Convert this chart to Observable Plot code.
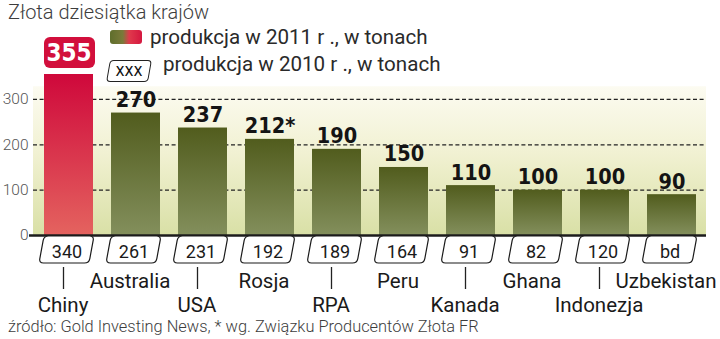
<!DOCTYPE html>
<html>
<head>
<meta charset="utf-8">
<script src="https://cdn.jsdelivr.net/npm/d3@7"></script>
<script src="https://cdn.jsdelivr.net/npm/@observablehq/plot@0.6"></script>
<style>
  html, body { margin: 0; padding: 0; background: #fff; }
  #wrap { position: relative; width: 720px; height: 339px; overflow: hidden; font-family: Roboto, "Noto Sans", sans-serif; }
  .abs { position: absolute; white-space: nowrap; }
  #title { left: 8px; top: 2px; font-size: 20px; line-height: 20px; font-weight: 300; color: #3d3d3d; }
  .leg { font-size: 20.6px; line-height: 20px; color: #2a2a2a; font-weight: 400; }
  #sw { left: 110px; top: 30px; width: 32px; height: 14px; border-radius: 3px;
        background: linear-gradient(to right, #5f6e2c 0%, #7a7a3a 40%, #e0394c 60%, #d4173f 100%); }
  #xbox { left: 108px; top: 60px; width: 40px; height: 20px; border: 1.3px solid #222; border-radius: 4px;
          transform: skewX(-10deg); background: #fff; }
  #xbox span { display: block; transform: skewX(10deg); text-align: center; font-family: "DejaVu Sans Condensed", Roboto, sans-serif; font-size: 17px; line-height: 19px; color: #111; }
  #footer { left: 8px; top: 319.5px; font-size: 16.4px; line-height: 13px; font-weight: 300; color: #3d3d3d; }
  svg { position: absolute; left: 0; top: 0; }
</style>
</head>
<body>
<div id="wrap">
  <div id="chart"></div>
  <div class="abs" id="title">Złota dziesiątka krajów</div>
  <div class="abs" id="sw"></div>
  <div class="abs leg" style="left:150px; top:27px;">produkcja w 2011 r ., w tonach</div>
  <div class="abs" id="xbox"><span>xxx</span></div>
  <div class="abs leg" style="left:163px; top:54px;">produkcja w 2010 r ., w tonach</div>
  <div class="abs" id="footer">źródło: Gold Investing News, * wg. Związku Producentów Złota FR</div>
</div>
<script>
// ---- data ----
const countries = ["Chiny", "Australia", "USA", "Rosja", "RPA", "Peru", "Kanada", "Ghana", "Indonezja", "Uzbekistan"];
const prod2011 = [355, 270, 237, 212, 190, 150, 110, 100, 100, 90];
const labels2011 = ["355", "270", "237", "212*", "190", "150", "110", "100", "100", "90"];
const labels2010 = ["340", "261", "231", "192", "189", "164", "91", "82", "120", "bd"];
const yTicks = [0, 100, 200, 300];
const gridTicks = [100, 200, 300];
const highlight = "Chiny";

const data = countries.map((c, i) => ({
  country: c, v: prod2011[i], label: labels2011[i], prev: labels2010[i], row: i % 2
}));
const top1 = data.filter(d => d.country === highlight);
const rest = data.filter(d => d.country !== highlight);

const boldFont = "'DejaVu Sans Condensed', Roboto, sans-serif";

const plot = Plot.plot({
  width: 720,
  height: 339,
  marginTop: 74,
  marginBottom: 104,
  marginLeft: 33,
  marginRight: 14,
  style: { fontFamily: "Roboto, sans-serif", background: "transparent", overflow: "visible" },
  x: { domain: countries, paddingInner: 0.272, paddingOuter: 0.134, axis: null },
  y: { domain: [0, 355], axis: null },
  color: { type: "identity" },
  marks: [
    Plot.rect([328], { y1: 0, y2: d => d, fill: () => "url(#bgGrad)" }),
    Plot.ruleY(gridTicks, { stroke: "#222", strokeWidth: 1.2, strokeDasharray: "4,2.6" }),
    Plot.barY(data, { x: "country", y: "v", fill: d => d.country === highlight ? "url(#gRed)" : "url(#gGreen)" }),
    Plot.ruleY([0], { stroke: "#1c1c1c", strokeWidth: 2.6, insetLeft: -4 }),
    Plot.axisY({ ticks: yTicks, tickSize: 0, tickPadding: 5, fontSize: 15.5, fill: "#555", fontWeight: 300, label: null }),
    Plot.text(rest, { x: "country", y: "v", text: "label", dy: -13, fontSize: 21.5, fontWeight: "bold", fontFamily: boldFont, fill: "#141414" }),
    Plot.barY(top1, { x: "country", y1: "v", y2: "v", insetTop: -37, insetBottom: 6, insetRight: -2, rx: 6, fill: () => "#d20f3c" }),
    Plot.text(top1, { x: "country", y: "v", text: "label", dy: -21.5, fontSize: 24, fontWeight: "bold", fontFamily: boldFont, fill: "#ffffff" }),
    Plot.text(data, { x: "country", y: 0, text: "prev", dy: 16.5, dx: -2, fontSize: 18, fill: "#1a1a1a", fontFamily: "Roboto, sans-serif" }),
    Plot.text(data.filter(d => d.row === 1), { x: "country", y: 0, text: "country", dy: 45.6, dx: -6, fontSize: 20.5, fill: "#1a1a1a" }),
    Plot.text(data.filter(d => d.row === 0), { x: "country", y: 0, text: "country", dy: 70, dx: -6, fontSize: 20.5, fill: "#1a1a1a" })
  ]
});

// gradients
const svg = d3.select(plot);
const defs = svg.insert("defs", ":first-child");
function vgrad(id, stops) {
  const g = defs.append("linearGradient").attr("id", id).attr("x1", 0).attr("y1", 0).attr("x2", 0).attr("y2", 1);
  stops.forEach(([o, c]) => g.append("stop").attr("offset", o).attr("stop-color", c));
}
vgrad("bgGrad", [[0, "#fcfbf1"], [0.45, "#f1f1d2"], [1, "#d9e0a6"]]);
vgrad("gGreen", [[0, "#515c1d"], [1, "#838f5c"]]);
vgrad("gRed", [[0, "#cf083b"], [1, "#e4635f"]]);

// under-axis boxes (2010 values) and leader ticks, positioned with Plot's scales
const xs = plot.scale("x");
const ys = plot.scale("y");
const y0 = ys.apply(0);
const bw = xs.bandwidth;
function toward(p, q, r) {
  const dx = q[0] - p[0], dy = q[1] - p[1], L = Math.hypot(dx, dy);
  return [p[0] + dx / L * r, p[1] + dy / L * r];
}
function roundedPath(pts, r) {
  let d = "";
  const n = pts.length;
  for (let i = 0; i < n; i++) {
    const p0 = pts[(i - 1 + n) % n], p1 = pts[i], p2 = pts[(i + 1) % n];
    const a = toward(p1, p0, r), b = toward(p1, p2, r);
    d += (i === 0 ? "M" : "L") + a[0] + "," + a[1] + "Q" + p1[0] + "," + p1[1] + " " + b[0] + "," + b[1];
  }
  return d + "Z";
}
const firstText = plot.querySelector('g[aria-label="text"]');
const gBox = document.createElementNS("http://www.w3.org/2000/svg", "g");
plot.insertBefore(gBox, firstText);
const gb = d3.select(gBox);
data.forEach((d, i) => {
  const L = xs.apply(d.country);
  const top = y0 + 1, bot = y0 + 28, s = 5;
  gb.append("path")
    .attr("d", roundedPath([[L, top], [L + bw + 1, top], [L + bw + 1 - s, bot], [L - s, bot]], 4.5))
    .attr("fill", "#fff").attr("stroke", "#1a1a1a").attr("stroke-width", 1.2);
  if (d.row === 0) {
    const cx = L + bw / 2 - 5;
    gb.append("line").attr("x1", cx).attr("x2", cx).attr("y1", y0 + 32).attr("y2", y0 + 54)
      .attr("stroke", "#222").attr("stroke-width", 1.3);
  }
});

document.getElementById("chart").appendChild(plot);
</script>
</body>
</html>
